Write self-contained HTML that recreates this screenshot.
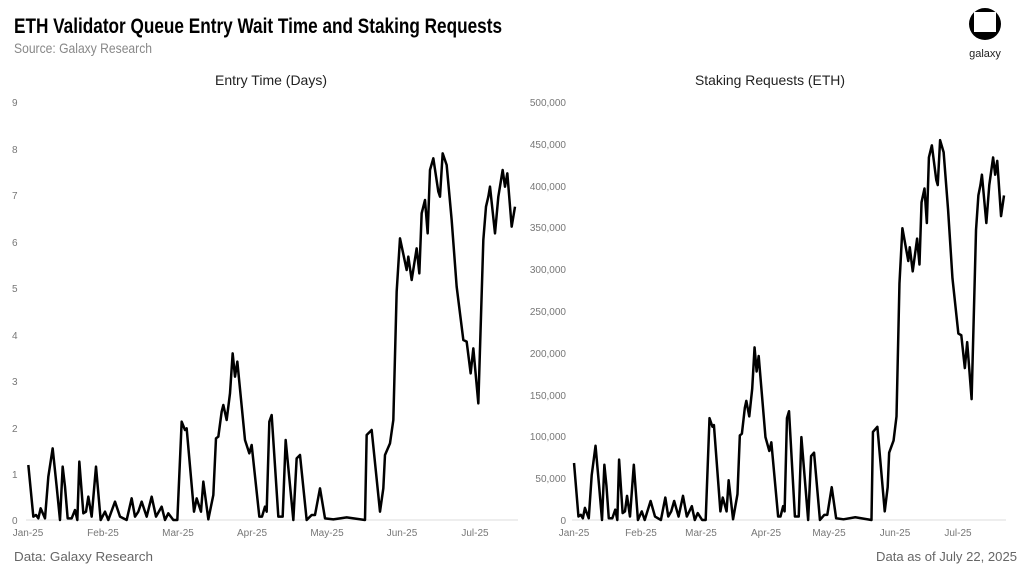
<!DOCTYPE html>
<html><head><meta charset="utf-8"><style>
html,body{margin:0;padding:0;background:#fff;}
svg{display:block;font-family:"Liberation Sans",sans-serif;}
</style></head><body>
<svg width="1031" height="572" viewBox="0 0 1031 572">
<text x="14" y="33" font-size="21" font-weight="bold" fill="#000" textLength="488" lengthAdjust="spacingAndGlyphs">ETH Validator Queue Entry Wait Time and Staking Requests</text>
<text x="14" y="53" font-size="14" fill="#888" textLength="138" lengthAdjust="spacingAndGlyphs">Source: Galaxy Research</text>
<circle cx="985" cy="24" r="16" fill="#000"/>
<rect x="974" y="12" width="22" height="20" fill="#fff"/>
<text x="985" y="57" font-size="11" text-anchor="middle" fill="#222">galaxy</text>
<text x="271" y="85" font-size="14" text-anchor="middle" fill="#222" textLength="112" lengthAdjust="spacingAndGlyphs">Entry Time (Days)</text>
<text x="770" y="85" font-size="14" text-anchor="middle" fill="#222" textLength="150" lengthAdjust="spacingAndGlyphs">Staking Requests (ETH)</text>
<g font-size="10" fill="#777">
<text x="12" y="106">9</text><text x="12" y="153">8</text><text x="12" y="199">7</text><text x="12" y="246">6</text><text x="12" y="292">5</text><text x="12" y="339">4</text><text x="12" y="385">3</text><text x="12" y="432">2</text><text x="12" y="478">1</text><text x="12" y="524">0</text>
<g text-anchor="end">
<text x="566" y="106">500,000</text><text x="566" y="148">450,000</text><text x="566" y="190">400,000</text><text x="566" y="231">350,000</text><text x="566" y="273">300,000</text><text x="566" y="315">250,000</text><text x="566" y="357">200,000</text><text x="566" y="399">150,000</text><text x="566" y="440">100,000</text><text x="566" y="482">50,000</text><text x="566" y="524">0</text>
</g>
<g text-anchor="middle">
<text x="28" y="536">Jan-25</text><text x="103" y="536">Feb-25</text><text x="178" y="536">Mar-25</text><text x="252" y="536">Apr-25</text><text x="327" y="536">May-25</text><text x="402" y="536">Jun-25</text><text x="475" y="536">Jul-25</text>
<text x="574" y="536">Jan-25</text><text x="641" y="536">Feb-25</text><text x="701" y="536">Mar-25</text><text x="766" y="536">Apr-25</text><text x="829" y="536">May-25</text><text x="895" y="536">Jun-25</text><text x="958" y="536">Jul-25</text>
</g>
</g>
<line x1="26" y1="520" x2="518" y2="520" stroke="#ddd" stroke-width="1"/>
<line x1="572" y1="520" x2="1006" y2="520" stroke="#ddd" stroke-width="1"/>
<defs>
<polyline id="d" fill="none" stroke="#000" stroke-width="2.5" stroke-linejoin="round" vector-effect="non-scaling-stroke" points="85,1155 100,1310 108,1305 115,1315 122,1285 135,1315 145,1190 158,1105 170,1220 180,1320 188,1160 195,1220 203,1315 215,1315 225,1290 232,1320 238,1145 250,1300 258,1295 265,1250 275,1310 288,1160 302,1320 315,1295 325,1320 345,1265 360,1310 380,1320 395,1255 405,1310 415,1295 425,1265 440,1310 455,1250 468,1310 485,1280 495,1320 505,1300 520,1320 532,1320 545,1025 555,1050 560,1045 582,1295 590,1255 603,1295 610,1205 625,1318 640,1245 648,1075 655,1070 665,995 670,975 680,1020 690,940 698,820 705,890 712,845 735,1080 748,1120 755,1095 778,1310 786,1310 795,1280 800,1295 808,1025 815,1005 835,1310 848,1310 857,1080 880,1320 890,1135 900,1125 920,1320 935,1305 945,1305 960,1225 975,1315 1000,1318 1040,1312 1095,1320 1100,1065 1115,1050 1140,1295 1150,1225 1155,1125 1170,1090 1180,1020 1190,635 1200,475 1220,570 1225,530 1235,600 1250,505 1258,580 1265,400 1275,360 1283,460 1290,270 1300,235 1315,335 1320,350 1328,220 1340,255 1355,420 1370,620 1390,780 1400,785 1412,880 1420,805 1435,970 1450,480 1458,380 1465,350 1470,320 1485,460 1495,350 1508,270 1515,320 1522,280 1535,440 1545,380"/>
</defs>
<use href="#d" transform="translate(0,80) scale(0.33333)"/>
<use href="#d" transform="matrix(0.2945,0,0,0.3453,549,64.2)"/>
<text x="14" y="561" font-size="13" fill="#666" textLength="139" lengthAdjust="spacingAndGlyphs">Data: Galaxy Research</text>
<text x="1017" y="561" font-size="13" fill="#666" text-anchor="end" textLength="141" lengthAdjust="spacingAndGlyphs">Data as of July 22, 2025</text>
</svg>
</body></html>
